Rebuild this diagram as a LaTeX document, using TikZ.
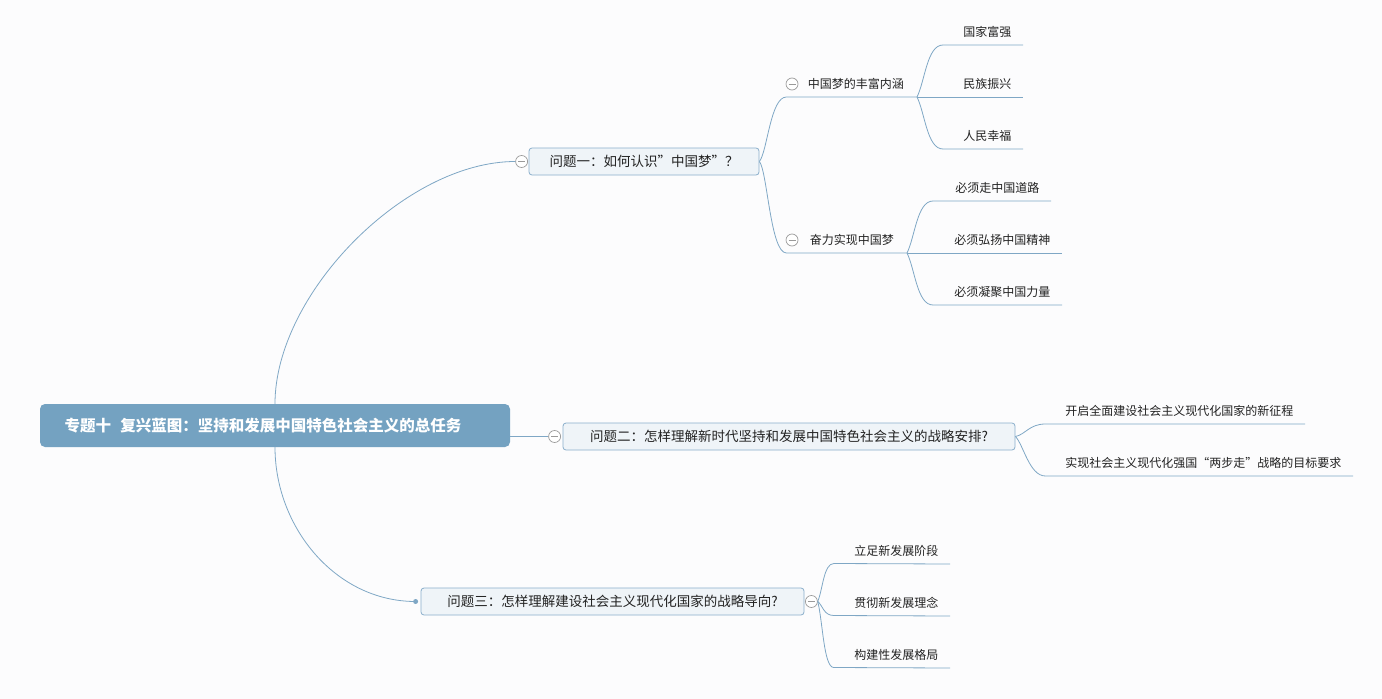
\documentclass[tikz,border=0pt]{standalone}
\usepackage{fontspec}
\setmainfont{Noto Sans CJK SC}
\definecolor{linkblue}{HTML}{7FA7C5}
\definecolor{rootblue}{HTML}{74A2C1}
\definecolor{qfill}{HTML}{EFF4F8}
\definecolor{qdraw}{HTML}{8AAFCB}
\definecolor{foldgray}{HTML}{9A9A9A}
\definecolor{paper}{HTML}{FCFCFD}
\definecolor{ink}{HTML}{222222}
\tikzset{
  link/.style={draw=linkblue, line width=0.8pt},
  rootbox/.style={rectangle, rounded corners=5pt, fill=rootblue, text=white,
    font=\fontsize{15.5}{18}\selectfont\bfseries, minimum width=470pt, minimum height=43pt},
  qbox/.style={rectangle, rounded corners=3pt, draw=qdraw, fill=qfill, line width=0.8pt,
    text=ink, font=\fontsize{13.5}{16}\selectfont, minimum height=27pt, inner sep=0pt},
  subtopic/.style={text=ink, font=\fontsize{12}{14}\selectfont, inner xsep=13pt,
    inner ysep=0pt, minimum height=26pt, anchor=south east},
  leaf/.style={text=ink, font=\fontsize{12}{14}\selectfont, inner xsep=11.5pt,
    inner ysep=0pt, minimum height=26pt, anchor=south east},
  fold/.style={circle, draw=foldgray, fill=white, line width=0.7pt, minimum size=12pt,
    inner sep=0pt, path picture={\draw[foldgray, line width=0.7pt]
      ([xshift=-3.5pt]path picture bounding box.center) --
      ([xshift=3.5pt]path picture bounding box.center);}},
  dot/.style={circle, fill=linkblue, minimum size=5pt, inner sep=0pt}
}
\begin{document}
\begin{tikzpicture}[x=1pt,y=-1pt]
\fill[paper] (0,0) rectangle (1382,699);
\useasboundingbox (0,0) rectangle (1382,699);

% main topic and the three questions
\node[rootbox] (root) at (275,425.5) {专题十\hspace{0.6em}复兴蓝图：坚持和发展中国特色社会主义的总任务\kern24pt};
\node[qbox, minimum width=230pt] (qone) at (644,161.5) {问题一：如何认识”中国梦”？};
\node[qbox, minimum width=452pt] (qtwo) at (789,436.5) {问题二：怎样理解新时代坚持和发展中国特色社会主义的战略安排?};
\node[qbox, minimum width=383pt] (qthree) at (612.5,601.5) {问题三：怎样理解建设社会主义现代化国家的战略导向?};

\node[fold] (fone) at ([xshift=-7pt]qone.west) {};
\node[fold] (ftwo) at ([xshift=-8pt]qtwo.west) {};
\node[fold] (fthree) at ([xshift=7pt]qthree.east) {};
\node[dot] (dthree) at ([xshift=-5pt]qthree.west) {};

\draw[link] (root.north) .. controls +(0,-110) and +(-110,0) .. (fone.west);
\draw[link] (root.east |- ftwo.west) -- (ftwo.west);
\draw[link] (root.south) .. controls +(0,80) and +(-80,0) .. (dthree.center);

% question one
\node[subtopic] (sone) at (917,97) {中国梦的丰富内涵};
\node[subtopic] (stwo) at (907,253) {奋力实现中国梦};
\node[fold] at (792,84) {};
\node[fold] at (792,240) {};
\draw[link] (qone.east) .. controls +(8,-10) and +(-16,0) .. ++(27,-64.5) -- (sone.south east);
\draw[link] (qone.east) .. controls +(8,10) and +(-16,0) .. ++(27,91.5) -- (stwo.south east);

\node[leaf] (lone) at (1023,45) {国家富强};
\node[leaf] (ltwo) at (1023,97) {民族振兴};
\node[leaf] (lthree) at (1023,149) {人民幸福};
\draw[link] (sone.south east) .. controls +(8,-16) and +(-16,0) .. ++(26,-52) -- (lone.south east);
\draw[link] (sone.south east) -- (ltwo.south east);
\draw[link] (sone.south east) .. controls +(8,16) and +(-16,0) .. ++(26,52) -- (lthree.south east);

\node[leaf] (kone) at (1051,201) {必须走中国道路};
\node[leaf] (ktwo) at (1062,253) {必须弘扬中国精神};
\node[leaf] (kthree) at (1062,305) {必须凝聚中国力量};
\draw[link] (stwo.south east) .. controls +(8,-16) and +(-16,0) .. ++(26,-52) -- (kone.south east);
\draw[link] (stwo.south east) -- (ktwo.south east);
\draw[link] (stwo.south east) .. controls +(8,16) and +(-16,0) .. ++(26,52) -- (kthree.south east);

% question two
\node[leaf] (mone) at (1305,424) {开启全面建设社会主义现代化国家的新征程};
\node[leaf] (mtwo) at (1353,476) {实现社会主义现代化强国“两步走”战略的目标要求};
\draw[link] (qtwo.east) .. controls +(10,-2) and +(-16,0) .. ++(30,-12.5) -- (mone.south east);
\draw[link] (qtwo.east) .. controls +(8,8) and +(-16,0) .. ++(30,39.5) -- (mtwo.south east);

% question three
\node[leaf] (none) at (950,564) {立足新发展阶段};
\node[leaf] (ntwo) at (950,616) {贯彻新发展理念};
\node[leaf] (nthree) at (950,668) {构建性发展格局};
\draw[link] (fthree.east) .. controls +(5,-12) and +(-10,0) .. ++(16,-38) -- (none.south east);
\draw[link] (fthree.east) .. controls +(5,4) and +(-10,0) .. ++(16,14) -- (ntwo.south east);
\draw[link] (fthree.east) .. controls +(5,20) and +(-10,0) .. ++(16,66) -- (nthree.south east);
\end{tikzpicture}
\end{document}
